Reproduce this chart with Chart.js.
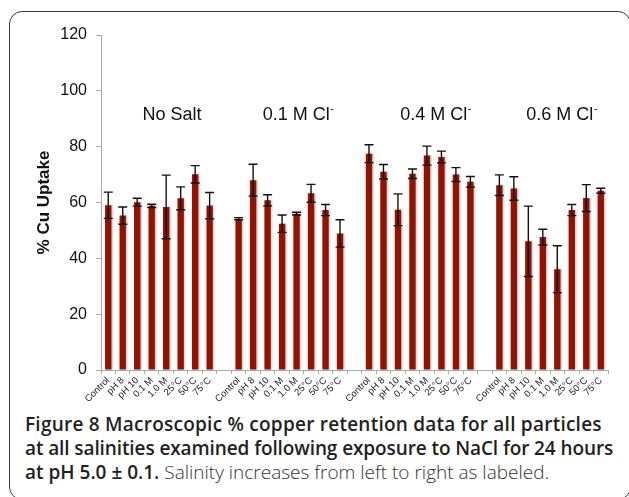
<!DOCTYPE html>
<html>
<head>
<meta charset="utf-8">
<title>Figure 8</title>
<script src="https://cdn.jsdelivr.net/npm/chart.js@4.4.0/dist/chart.umd.min.js"></script>
<style>
  html, body { margin: 0; padding: 0; background: #fff; }
  body { width: 629px; height: 497px; position: relative; overflow: hidden; }
  .frame {
    position: absolute; left: 9px; top: 11px; width: 622px; height: 489px;
    box-sizing: border-box; border: 1.5px solid #3a3a3a; border-radius: 13px;
  }
  #chart { position: absolute; left: 0; top: 0; }
  .caption {
    position: absolute; left: 25px; top: 412px;
    font-family: 'Open Sans', sans-serif; font-size: 19px; line-height: 24px;
    color: #231f20; white-space: nowrap;
  }
  .caption b { font-weight: 600; }
  .caption .l1 { letter-spacing: 0.24px; }
  .caption .l2 { letter-spacing: -0.1px; }
  .caption .rest { font-weight: 300; color: #333; }
</style>
</head>
<body>
<div class="frame"></div>
<canvas id="chart" width="629" height="410"></canvas>
<div class="caption">
  <b class="l1">Figure 8 Macroscopic % copper retention data for all particles</b><br>
  <b class="l2">at all salinities examined following exposure to NaCl for 24 hours</b><br>
  <b>at pH 5.0 ± 0.1.</b> <span class="rest">Salinity increases from left to right as labeled.</span>
</div>
<script>
// treatment conditions, repeated for every salinity group
const conditions = ['Control', 'pH 8', 'pH 10', '0.1 M', '1.0 M', '25°C', '50°C', '75°C'];
const groupNames = ['No Salt', '0.1 M Cl⁻', '0.4 M Cl⁻', '0.6 M Cl⁻'];

// % Cu uptake and error (±) per condition
const noSalt    = [59.0, 55.3, 60.1, 58.8, 58.4, 61.5, 70.1, 58.9];
const noSaltErr = [4.7, 3.1, 1.4, 0.6, 11.4, 4.1, 3.1, 4.7];
const cl01      = [54.2, 68.0, 60.8, 52.4, 56.0, 63.3, 57.3, 48.9];
const cl01Err   = [0.4, 5.7, 2.0, 3.1, 0.5, 3.2, 2.0, 4.9];
const cl04      = [77.5, 71.0, 57.4, 70.3, 76.8, 76.3, 70.0, 67.4];
const cl04Err   = [3.2, 2.6, 5.7, 1.7, 3.4, 2.1, 2.5, 1.9];
const cl06      = [66.2, 65.0, 46.1, 47.6, 36.1, 57.3, 61.6, 64.2];
const cl06Err   = [3.7, 4.2, 12.6, 2.8, 8.4, 2.0, 4.8, 0.9];

const yTicks = [0, 20, 40, 60, 80, 100, 120];

// where the group names sit (category index of their centre, value height)
const groupLabelAt = [4.4, 13.1, 22.6, 31.3];
const groupLabelY = 91.4;

// flatten the four groups into one category axis with an empty slot between groups
const groups = [[noSalt, noSaltErr], [cl01, cl01Err], [cl04, cl04Err], [cl06, cl06Err]];
const labels = [], uptake = [], spread = [];
groups.forEach(([vals, errs], g) => {
  if (g > 0) { labels.push(''); uptake.push(null); spread.push(null); }
  conditions.forEach((c, i) => {
    labels.push(c);
    uptake.push(vals[i]);
    spread.push(errs[i]);
  });
});

const errorBars = {
  id: 'errorBars',
  beforeDatasetsDraw(chart) {
    const ctx = chart.ctx;
    ctx.save();
    ctx.shadowColor = 'rgba(0,0,0,0.22)';
    ctx.shadowBlur = 2;
    ctx.shadowOffsetX = 1.5;
  },
  afterDatasetsDraw(chart) {
    const ctx = chart.ctx;
    ctx.restore();
    const y = chart.scales.y;
    const meta = chart.getDatasetMeta(0);
    ctx.save();
    ctx.strokeStyle = '#111';
    ctx.lineWidth = 1.4;
    meta.data.forEach((bar, i) => {
      if (uptake[i] == null) return;
      const top = y.getPixelForValue(uptake[i] + spread[i]);
      const bot = y.getPixelForValue(uptake[i] - spread[i]);
      ctx.beginPath();
      ctx.moveTo(bar.x, top); ctx.lineTo(bar.x, bot);
      ctx.moveTo(bar.x - 4.5, top); ctx.lineTo(bar.x + 4.5, top);
      ctx.moveTo(bar.x - 4.5, bot); ctx.lineTo(bar.x + 4.5, bot);
      ctx.stroke();
    });
    ctx.restore();
  }
};

const groupTitles = {
  id: 'groupTitles',
  afterDraw(chart) {
    const { ctx, scales: { x, y } } = chart;
    ctx.save();
    ctx.fillStyle = '#111';
    ctx.textBaseline = 'middle';
    ctx.textAlign = 'left';
    const big = '18px "Liberation Sans", Arial, sans-serif';
    const small = '11px "Liberation Sans", Arial, sans-serif';
    groupNames.forEach((name, g) => {
      const charged = name.endsWith('⁻');
      const base = charged ? name.slice(0, -1) : name;
      ctx.font = big;
      const wBase = ctx.measureText(base).width;
      ctx.font = small;
      const wSup = charged ? ctx.measureText('-').width : 0;
      const cx = x.getPixelForValue(groupLabelAt[g]);
      const cy = y.getPixelForValue(groupLabelY);
      const left = cx - (wBase + wSup) / 2;
      ctx.font = big;
      ctx.fillText(base, left, cy);
      if (charged) {
        ctx.font = small;
        ctx.fillText('-', left + wBase + 0.5, cy - 6);
      }
    });
    ctx.restore();
  }
};

new Chart(document.getElementById('chart'), {
  type: 'bar',
  data: {
    labels: labels,
    datasets: [{
      data: uptake,
      backgroundColor: '#931300',
      borderWidth: 0,
      categoryPercentage: 1,
      barPercentage: 0.44
    }]
  },
  options: {
    responsive: false,
    animation: false,
    devicePixelRatio: 1,
    layout: { padding: { top: 35, right: 21, left: 0, bottom: 0 } },
    plugins: { legend: { display: false }, tooltip: { enabled: false } },
    scales: {
      x: {
        afterFit: s => { s.height = 40; },
        grid: { drawOnChartArea: false, tickLength: 4, color: '#aaa' },
        border: { color: '#aaa', width: 1 },
        ticks: {
          autoSkip: false, maxRotation: 45, minRotation: 45, padding: 1,
          color: '#222', font: { family: '"Liberation Sans", Arial, sans-serif', size: 9.5 }
        }
      },
      y: {
        min: 0, max: 120,
        afterFit: s => { s.width = 101; },
        afterBuildTicks: s => { s.ticks = yTicks.map(v => ({ value: v })); },
        grid: { drawOnChartArea: false, tickLength: 5, color: '#aaa' },
        border: { color: '#aaa', width: 1 },
        ticks: {
          padding: 9, color: '#111',
          font: { family: '"Liberation Sans", Arial, sans-serif', size: 16 }
        },
        title: {
          display: true, text: '% Cu Uptake', color: '#111',
          padding: { top: 34, bottom: 0 },
          font: { family: '"Liberation Sans", Arial, sans-serif', size: 17, weight: 'bold' }
        }
      }
    }
  },
  plugins: [errorBars, groupTitles]
});
</script>
</body>
</html>
